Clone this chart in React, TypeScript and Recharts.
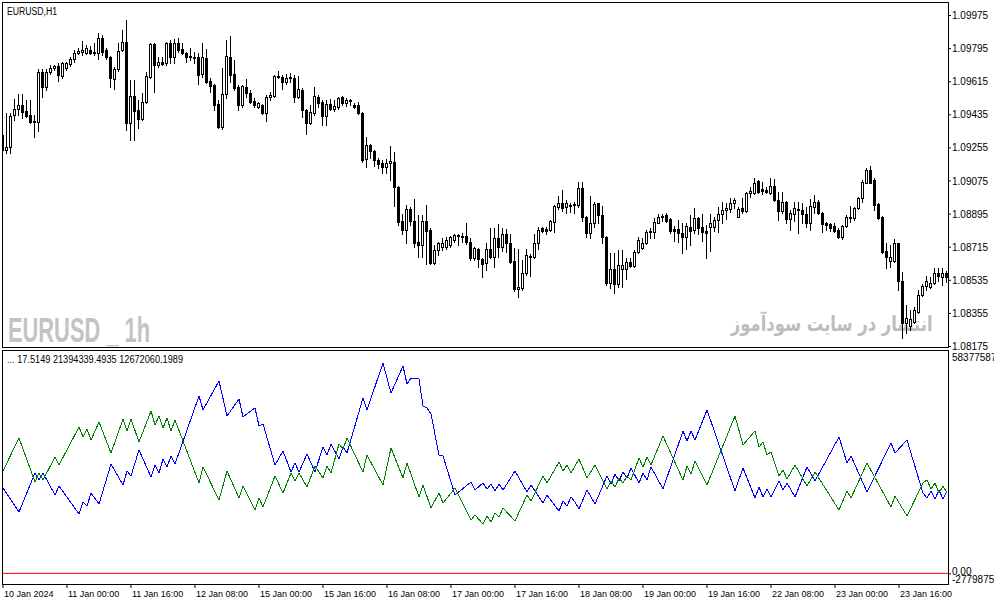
import React from "react";
import { ComposedChart, Bar, Line, XAxis, YAxis, ReferenceLine } from "recharts";

const FONT = "'Liberation Sans', Arial, sans-serif";

const opens = [
  1.09325, 1.09244, 1.0926, 1.09434, 1.09467, 1.09488, 1.09456, 1.09434, 1.09401, 1.09396,
  1.09668, 1.09586, 1.09668, 1.0969, 1.097, 1.09646, 1.0969, 1.09711, 1.09739, 1.09771,
  1.09777, 1.09771, 1.09787, 1.09777, 1.09771, 1.09853, 1.09787, 1.09749, 1.0963, 1.09684,
  1.09787, 1.09831, 1.0939, 1.09537, 1.09461, 1.09412, 1.09505, 1.09641, 1.0982, 1.09706,
  1.09722, 1.09717, 1.09826, 1.09749, 1.09826, 1.09793, 1.09771, 1.09749, 1.09749, 1.09749,
  1.09657, 1.09744, 1.09619, 1.09597, 1.09494, 1.09369, 1.09548, 1.09749, 1.09657, 1.09586,
  1.09488, 1.09586, 1.09554, 1.0951, 1.09477, 1.09488, 1.09445, 1.09532, 1.09537, 1.09641,
  1.09641, 1.09613, 1.09635, 1.09635, 1.09532, 1.0957, 1.09461, 1.0939, 1.09445, 1.09532,
  1.09505, 1.09429, 1.09494, 1.09467, 1.09477, 1.09532, 1.09499, 1.0951, 1.09488, 1.09488,
  1.09445, 1.09195, 1.09271, 1.09238, 1.09189, 1.09173, 1.09151, 1.09173, 1.09178, 1.09042,
  1.08858, 1.08809, 1.08923, 1.08858, 1.08743, 1.08727, 1.08858, 1.08809, 1.08629, 1.087,
  1.08716, 1.08716, 1.08727, 1.08754, 1.08776, 1.08776, 1.08776, 1.08743, 1.08656, 1.08705,
  1.08651, 1.08629, 1.08705, 1.08662, 1.08765, 1.08716, 1.08787, 1.08738, 1.0864, 1.08488,
  1.08493, 1.08575, 1.08667, 1.08662, 1.08738, 1.08819, 1.08814, 1.08809, 1.08852, 1.08934,
  1.08955, 1.08934, 1.08945, 1.08945, 1.08945, 1.09037, 1.08879, 1.08792, 1.08847, 1.08955,
  1.0889, 1.08771, 1.0852, 1.08597, 1.08515, 1.08597, 1.08597, 1.08635, 1.08613, 1.08689,
  1.08711, 1.08738, 1.08798, 1.08798, 1.08847, 1.08879, 1.0889, 1.08868, 1.08814, 1.08814,
  1.08792, 1.08771, 1.08825, 1.08809, 1.08874, 1.08825, 1.08803, 1.08825, 1.08825, 1.08863,
  1.08896, 1.08917, 1.08923, 1.08955, 1.08879, 1.08928, 1.08912, 1.0901, 1.0901, 1.09075,
  1.09032, 1.09026, 1.0901, 1.09048, 1.08972, 1.08912, 1.08961, 1.08868, 1.08896, 1.08917,
  1.08917, 1.08896, 1.08847, 1.08934, 1.08961, 1.08901, 1.08847, 1.08841, 1.0883, 1.08809,
  1.08771, 1.0883, 1.08874, 1.08874, 1.08928, 1.08983, 1.09064, 1.09135, 1.0908, 1.0895,
  1.08879, 1.08694, 1.0864, 1.0864, 1.08738, 1.08531, 1.08303, 1.08287, 1.08308, 1.08363,
  1.08455, 1.08504, 1.08499, 1.0852, 1.08575, 1.08553, 1.08575,
];

const highs = [
  1.09336, 1.09445, 1.09445, 1.09521, 1.09548, 1.09548, 1.09515, 1.09515, 1.09434, 1.09684,
  1.09684, 1.09684, 1.09706, 1.09706, 1.09717, 1.09722, 1.09722, 1.09749, 1.09787, 1.09798,
  1.09836, 1.09815, 1.09809, 1.09826, 1.0988, 1.09869, 1.09798, 1.09755, 1.09695, 1.09826,
  1.09896, 1.09951, 1.09624, 1.09624, 1.09515, 1.09554, 1.09668, 1.09826, 1.09826, 1.09749,
  1.09749, 1.09831, 1.09842, 1.09847, 1.09853, 1.09826, 1.09777, 1.09798, 1.09777, 1.09771,
  1.09826, 1.09793, 1.09635, 1.09603, 1.09515, 1.0969, 1.09842, 1.09864, 1.09733, 1.09597,
  1.09597, 1.0963, 1.0957, 1.09526, 1.09505, 1.09494, 1.09543, 1.09559, 1.09651, 1.09673,
  1.09651, 1.09657, 1.09662, 1.09651, 1.09646, 1.09581, 1.09467, 1.09488, 1.09586, 1.09543,
  1.09515, 1.09515, 1.09521, 1.09515, 1.09532, 1.09537, 1.09526, 1.09521, 1.09499, 1.09505,
  1.0945, 1.09314, 1.09276, 1.09244, 1.092, 1.09189, 1.09195, 1.09265, 1.09233, 1.09048,
  1.08896, 1.08945, 1.08934, 1.08977, 1.0889, 1.0889, 1.08945, 1.08819, 1.08727, 1.08743,
  1.08765, 1.08771, 1.08776, 1.08787, 1.08787, 1.08792, 1.08847, 1.08765, 1.08716, 1.08711,
  1.08656, 1.08738, 1.08819, 1.08819, 1.08841, 1.08819, 1.08814, 1.08787, 1.08711, 1.08705,
  1.08645, 1.08705, 1.08678, 1.08787, 1.08825, 1.08825, 1.08825, 1.08863, 1.08945, 1.08994,
  1.09026, 1.08972, 1.08955, 1.08961, 1.0907, 1.0907, 1.08885, 1.08994, 1.08961, 1.08958,
  1.08939, 1.08776, 1.08684, 1.08684, 1.087, 1.087, 1.08656, 1.08656, 1.087, 1.08771,
  1.08765, 1.08809, 1.08819, 1.08874, 1.08896, 1.08896, 1.08901, 1.08874, 1.0883, 1.08863,
  1.08847, 1.08847, 1.0889, 1.08928, 1.08879, 1.08896, 1.08836, 1.08896, 1.08879, 1.08934,
  1.08961, 1.08955, 1.08983, 1.08983, 1.08934, 1.08983, 1.09015, 1.09042, 1.09091, 1.0908,
  1.0907, 1.09042, 1.09091, 1.09086, 1.09015, 1.09015, 1.08966, 1.08917, 1.08961, 1.08961,
  1.08955, 1.08934, 1.08977, 1.08999, 1.08972, 1.08906, 1.08852, 1.08847, 1.08847, 1.08819,
  1.08836, 1.0889, 1.08939, 1.08934, 1.08988, 1.0908, 1.09146, 1.09157, 1.09091, 1.08955,
  1.08885, 1.08738, 1.08727, 1.0876, 1.0874, 1.0858, 1.08401, 1.08374, 1.0839, 1.08482,
  1.08515, 1.08558, 1.08553, 1.08602, 1.08602, 1.08602, 1.08586,
];

const lows = [
  1.09227, 1.09227, 1.09227, 1.09407, 1.09434, 1.09418, 1.09423, 1.0939, 1.09314, 1.09347,
  1.09532, 1.0957, 1.09657, 1.09679, 1.09619, 1.09635, 1.09679, 1.097, 1.09722, 1.09766,
  1.0976, 1.09766, 1.09766, 1.0976, 1.09739, 1.0976, 1.09739, 1.09586, 1.09575, 1.09673,
  1.09782, 1.09352, 1.09298, 1.09298, 1.09363, 1.09407, 1.09499, 1.09635, 1.09559, 1.09695,
  1.09706, 1.09706, 1.09717, 1.09717, 1.09777, 1.09766, 1.09722, 1.09733, 1.09717, 1.09603,
  1.09641, 1.09608, 1.09559, 1.09461, 1.09363, 1.09358, 1.09526, 1.09613, 1.0957, 1.09461,
  1.09477, 1.09532, 1.09499, 1.09477, 1.09472, 1.09439, 1.09401, 1.09515, 1.09532, 1.09635,
  1.09575, 1.09603, 1.09613, 1.09505, 1.09526, 1.09423, 1.09331, 1.09385, 1.09434, 1.09477,
  1.0938, 1.0938, 1.09461, 1.09456, 1.09467, 1.09488, 1.09483, 1.09488, 1.09472, 1.09439,
  1.09178, 1.09151, 1.092, 1.09157, 1.09146, 1.09119, 1.09119, 1.0908, 1.08939, 1.08836,
  1.08787, 1.08738, 1.08836, 1.08716, 1.08662, 1.08662, 1.08624, 1.08624, 1.08624, 1.08673,
  1.087, 1.08705, 1.08716, 1.08743, 1.08727, 1.08743, 1.08732, 1.08645, 1.08645, 1.08607,
  1.08553, 1.08591, 1.08656, 1.08607, 1.08662, 1.08694, 1.08689, 1.08629, 1.08477, 1.08444,
  1.08482, 1.08564, 1.08558, 1.08656, 1.08705, 1.08798, 1.08787, 1.08803, 1.08798, 1.08923,
  1.08912, 1.08901, 1.08906, 1.08901, 1.08934, 1.08858, 1.08771, 1.08765, 1.08825, 1.08847,
  1.08738, 1.0851, 1.08493, 1.08466, 1.08499, 1.08499, 1.08542, 1.08607, 1.08607, 1.08684,
  1.08705, 1.08732, 1.08765, 1.08765, 1.08847, 1.08858, 1.08852, 1.08792, 1.08749, 1.08743,
  1.08684, 1.08705, 1.08727, 1.08792, 1.08787, 1.08749, 1.08656, 1.08694, 1.08803, 1.08798,
  1.08847, 1.08868, 1.08906, 1.08928, 1.08879, 1.08901, 1.08906, 1.08988, 1.09004, 1.0901,
  1.09004, 1.0901, 1.09004, 1.08966, 1.08863, 1.08901, 1.08847, 1.08809, 1.08858, 1.08792,
  1.08847, 1.08825, 1.08809, 1.08901, 1.08896, 1.08798, 1.08809, 1.08803, 1.08798, 1.08765,
  1.0876, 1.08825, 1.08852, 1.08863, 1.08923, 1.08961, 1.09064, 1.09064, 1.08917, 1.08868,
  1.08684, 1.08602, 1.08607, 1.08635, 1.08482, 1.08221, 1.08249, 1.08265, 1.08303, 1.08357,
  1.0845, 1.08482, 1.08493, 1.08515, 1.08531, 1.0851, 1.08526,
];

const closes = [
  1.09244, 1.0926, 1.09429, 1.09467, 1.09488, 1.0945, 1.09429, 1.09396, 1.09396, 1.09668,
  1.09586, 1.09668, 1.0969, 1.097, 1.09651, 1.09717, 1.09717, 1.09739, 1.09771, 1.09782,
  1.09787, 1.09798, 1.09771, 1.09771, 1.09853, 1.09777, 1.09749, 1.09635, 1.09684, 1.09782,
  1.09831, 1.0939, 1.09537, 1.09456, 1.09412, 1.09505, 1.09646, 1.0982, 1.09706, 1.09722,
  1.09711, 1.09826, 1.09749, 1.09826, 1.09787, 1.09771, 1.09749, 1.09755, 1.09744, 1.09651,
  1.09749, 1.09613, 1.09592, 1.09488, 1.09369, 1.09548, 1.09755, 1.09651, 1.09581, 1.09488,
  1.09592, 1.09554, 1.09505, 1.09488, 1.09499, 1.09445, 1.09532, 1.09543, 1.09646, 1.09646,
  1.09613, 1.09635, 1.09641, 1.09532, 1.09575, 1.09461, 1.0939, 1.0945, 1.09537, 1.09499,
  1.09429, 1.09494, 1.09467, 1.09483, 1.09526, 1.09499, 1.09515, 1.09515, 1.09477, 1.09445,
  1.09189, 1.09271, 1.09238, 1.09189, 1.09167, 1.09151, 1.09173, 1.09184, 1.09042, 1.08852,
  1.08809, 1.08923, 1.08858, 1.08738, 1.08727, 1.08858, 1.08803, 1.08629, 1.087, 1.08738,
  1.08738, 1.08754, 1.08771, 1.08781, 1.08781, 1.08771, 1.08743, 1.08656, 1.08711, 1.08651,
  1.08624, 1.08705, 1.08662, 1.08765, 1.08716, 1.08787, 1.08738, 1.08635, 1.08488, 1.08499,
  1.08575, 1.08673, 1.08662, 1.08738, 1.08809, 1.08803, 1.08803, 1.08858, 1.08939, 1.08955,
  1.08928, 1.08955, 1.08939, 1.0895, 1.09037, 1.08879, 1.08792, 1.08847, 1.0895, 1.0889,
  1.08771, 1.0852, 1.08597, 1.08515, 1.08618, 1.08618, 1.08635, 1.08613, 1.08689, 1.08754,
  1.08738, 1.08798, 1.08803, 1.08852, 1.08879, 1.08885, 1.08858, 1.08803, 1.08803, 1.08792,
  1.08771, 1.0883, 1.08803, 1.08874, 1.08819, 1.08798, 1.08792, 1.08847, 1.08863, 1.08896,
  1.08917, 1.08928, 1.08955, 1.08972, 1.08923, 1.08912, 1.0901, 1.09021, 1.09064, 1.09015,
  1.09021, 1.09015, 1.09048, 1.08972, 1.08912, 1.08961, 1.08868, 1.08901, 1.08928, 1.08923,
  1.08896, 1.08847, 1.08939, 1.08961, 1.08901, 1.08841, 1.08836, 1.08819, 1.08803, 1.08771,
  1.0883, 1.08879, 1.08879, 1.08928, 1.08983, 1.0907, 1.09135, 1.09064, 1.08945, 1.08874,
  1.08689, 1.08662, 1.08662, 1.08738, 1.08531, 1.08303, 1.0833, 1.08325, 1.08374, 1.08455,
  1.08504, 1.08531, 1.0852, 1.08575, 1.08558, 1.08575, 1.08553,
];

const priceTicks = [1.08175, 1.08355, 1.08535, 1.08715, 1.08895, 1.09075, 1.09255, 1.09435, 1.09615, 1.09795, 1.09975];
const priceDomain = [1.081668, 1.100484];

const timeTickBars = [0, 16, 32, 48, 64, 80, 96, 112, 128, 144, 160, 176, 192, 208, 224];
const timeTickLabels = [
  "10 Jan 2024", "11 Jan 00:00", "11 Jan 16:00", "12 Jan 08:00", "15 Jan 00:00",
  "15 Jan 16:00", "16 Jan 08:00", "17 Jan 00:00", "17 Jan 16:00", "18 Jan 08:00",
  "19 Jan 00:00", "19 Jan 16:00", "22 Jan 08:00", "23 Jan 00:00", "23 Jan 16:00",
];

const bluePoints: [number, number][] = [
  [0, 22.31e6], [4, 16.04e6], [8, 26.23e6], [9, 24.4e6], [10, 26.23e6], [13, 20.48e6], [14, 22.83e6],
  [19, 15.51e6], [20, 18.65e6], [21, 17.61e6], [22, 21.0e6], [24, 18.13e6], [27, 28.58e6], [30, 23.09e6],
  [31, 26.75e6], [32, 25.45e6], [34, 32.24e6], [37, 25.19e6], [38, 28.32e6], [39, 26.23e6], [40, 29.89e6],
  [41, 27.8e6], [42, 30.67e6], [43, 28.58e6], [49, 46.36e6], [50, 42.7e6], [54, 50.28e6], [56, 41.13e6],
  [59, 45.57e6], [60, 40.87e6], [63, 43.22e6], [64, 38.51e6], [65, 39.04e6], [68, 28.32e6], [70, 31.98e6],
  [72, 26.49e6], [73, 28.84e6], [74, 26.49e6], [76, 31.2e6], [78, 26.49e6], [80, 33.03e6], [81, 30.94e6],
  [82, 33.81e6], [84, 29.89e6], [85, 33.03e6], [86, 31.46e6], [90, 45.83e6], [91, 42.7e6], [95, 54.98e6],
  [97, 47.14e6], [100, 54.2e6], [101, 49.49e6], [102, 51.06e6], [104, 50.8e6], [105, 43.74e6], [106, 43.22e6],
  [107, 41.65e6], [109, 30.94e6], [110, 30.67e6], [113, 20.48e6], [117, 23.88e6], [118, 21.79e6], [120, 23.62e6],
  [121, 22.05e6], [122, 23.36e6], [123, 21.53e6], [124, 23.36e6], [125, 21.79e6], [128, 26.75e6], [131, 21.26e6],
  [132, 23.09e6], [135, 18.39e6], [136, 20.48e6], [139, 16.3e6], [140, 18.91e6], [141, 17.61e6], [142, 19.96e6],
  [143, 18.65e6], [144, 16.82e6], [146, 21.79e6], [148, 18.13e6], [151, 25.45e6], [152, 23.36e6], [153, 25.97e6],
  [154, 24.14e6], [155, 26.49e6], [156, 24.92e6], [157, 27.54e6], [159, 23.62e6], [160, 26.23e6], [161, 24.4e6],
  [162, 27.8e6], [165, 22.05e6], [170, 37.21e6], [171, 34.59e6], [172, 37.21e6], [173, 34.86e6], [176, 42.7e6],
  [183, 21.53e6], [185, 27.54e6], [188, 19.7e6], [189, 22.57e6], [190, 19.96e6], [191, 22.05e6], [192, 19.96e6],
  [194, 24.14e6], [195, 21.79e6], [196, 23.62e6], [198, 19.96e6], [201, 27.8e6], [203, 24.14e6], [209, 35.64e6],
  [211, 28.84e6], [212, 30.67e6], [216, 21.26e6], [222, 34.07e6], [223, 31.46e6], [226, 34.86e6], [230, 21.0e6],
  [231, 19.7e6], [232, 21.53e6], [233, 19.44e6], [234, 21.79e6], [235, 19.44e6], [236, 21.39e6],
];

const greenPoints: [number, number][] = [
  [0, 26.75e6], [4, 35.38e6], [8, 23.88e6], [9, 26.23e6], [10, 24.4e6], [13, 30.41e6], [14, 28.32e6],
  [19, 38.25e6], [20, 35.64e6], [21, 37.73e6], [22, 34.86e6], [24, 39.56e6], [27, 31.46e6], [30, 40.34e6],
  [31, 37.21e6], [32, 40.34e6], [34, 34.33e6], [37, 42.43e6], [38, 38.78e6], [39, 41.13e6], [40, 37.99e6],
  [41, 40.61e6], [42, 37.21e6], [43, 40.08e6], [49, 23.62e6], [50, 27.8e6], [54, 19.17e6], [56, 26.75e6],
  [59, 19.7e6], [60, 22.83e6], [63, 16.56e6], [64, 19.7e6], [65, 17.34e6], [68, 25.45e6], [70, 21.0e6],
  [72, 26.23e6], [73, 24.14e6], [74, 26.23e6], [76, 22.57e6], [78, 28.06e6], [80, 24.92e6], [81, 28.06e6],
  [82, 26.23e6], [84, 33.81e6], [85, 32.5e6], [86, 35.38e6], [90, 26.49e6], [91, 30.94e6], [95, 23.09e6],
  [97, 32.76e6], [100, 24.92e6], [101, 28.84e6], [104, 19.96e6], [105, 23.09e6], [107, 17.08e6], [109, 21.0e6],
  [110, 18.39e6], [113, 22.31e6], [117, 13.95e6], [118, 15.25e6], [120, 12.9e6], [121, 14.99e6], [122, 13.42e6],
  [123, 15.78e6], [124, 14.73e6], [125, 17.08e6], [128, 13.69e6], [131, 20.48e6], [132, 18.91e6], [135, 25.45e6],
  [136, 23.62e6], [139, 29.11e6], [140, 26.75e6], [141, 28.32e6], [142, 26.23e6], [144, 29.89e6], [146, 24.92e6],
  [148, 28.32e6], [151, 22.05e6], [152, 24.14e6], [153, 22.57e6], [154, 24.92e6], [155, 23.62e6], [156, 25.45e6],
  [157, 24.4e6], [159, 30.15e6], [160, 27.8e6], [161, 30.41e6], [162, 28.32e6], [165, 35.9e6], [170, 24.4e6],
  [171, 28.06e6], [172, 25.97e6], [173, 29.37e6], [176, 23.09e6], [183, 41.13e6], [185, 33.55e6], [188, 37.21e6],
  [189, 33.03e6], [190, 34.33e6], [191, 30.94e6], [192, 31.72e6], [194, 25.45e6], [195, 27.01e6], [196, 24.66e6],
  [198, 28.32e6], [201, 22.83e6], [203, 26.49e6], [209, 16.56e6], [211, 21.53e6], [212, 19.7e6], [216, 28.84e6],
  [222, 17.34e6], [223, 20.22e6], [226, 14.99e6], [230, 23.62e6], [231, 24.4e6], [232, 22.05e6], [233, 23.62e6],
  [234, 21.0e6], [235, 22.83e6], [236, 21.0e6],
];

const indicatorTicks = [58377587, 0, -2779875];
const indicatorDomain = [-2779875, 58377587];
const barDomain = [-0.25, 236.25];

const candles = opens.map((o, i) => ({
  i,
  o,
  h: highs[i],
  l: lows[i],
  c: closes[i],
  range: [lows[i], highs[i]],
}));

const blueMap = new Map(bluePoints);
const greenMap = new Map(greenPoints);
const indicatorRows = opens.map((_, i) => ({
  i,
  blue: blueMap.has(i) ? blueMap.get(i) : null,
  green: greenMap.has(i) ? greenMap.get(i) : null,
}));

const Candle = (props: any) => {
  const { x, y, width, height } = props;
  const p = props.payload || props;
  if (x == null || y == null || p == null) return null;
  const { o, h, l, c } = p;
  const top = Math.min(y, y + height);
  const bot = Math.max(y, y + height);
  const span = h - l;
  const py = (v: number) => (span > 0 ? top + ((h - v) / span) * (bot - top) : top);
  const cx = Math.floor(x + width / 2);
  const yh = Math.round(top);
  const yl = Math.round(bot);
  const yo = Math.round(py(o));
  const yc = Math.round(py(c));
  const els: any[] = [];
  els.push(<rect key="w" x={cx} y={yh} width={1} height={Math.max(1, yl - yh + 1)} fill="#000" />);
  if (c >= o) {
    const bt = yc;
    const bb = Math.max(yo, yc + 1);
    els.push(<rect key="b" x={cx - 1} y={bt} width={3} height={bb - bt + 1} fill="#000" />);
    if (bb - bt - 1 > 0) {
      els.push(<rect key="i" x={cx} y={bt + 1} width={1} height={bb - bt - 1} fill="#fff" />);
    }
  } else {
    els.push(<rect key="b" x={cx - 1} y={yo} width={3} height={Math.max(1, yc - yo + 1)} fill="#000" />);
  }
  return <g shapeRendering="crispEdges">{els}</g>;
};

const TimeTick = (props: any) => {
  const { x, y, payload } = props;
  const k = timeTickBars.indexOf(payload.value);
  if (k < 0) return null;
  return (
    <text x={x + 1} y={y + 9} fontSize={9} fontFamily={FONT} fill="#000" textAnchor="start">
      {timeTickLabels[k]}
    </text>
  );
};

const IndTick = (props: any) => {
  const { x, y, payload } = props;
  const v = payload.value;
  if (v === 0) {
    return (
      <g>
        <line x1={x - 4} x2={x - 1} y1={y + 0.5} y2={y + 0.5} stroke="#000" />
        <text x={x} y={y - 2} dy="0.355em" fontSize={10} fontFamily={FONT} fill="#000">0.00</text>
      </g>
    );
  }
  const dyPx = v > 0 ? 7 : -5;
  return (
    <text x={x} y={y + dyPx} dy="0.355em" fontSize={10} fontFamily={FONT} fill="#000">
      {v.toFixed(4)}
    </text>
  );
};

const frame = (left: number, top: number, w: number, h: number) => ({
  position: "absolute" as const,
  left,
  top,
  width: w,
  height: h,
  border: "1px solid #000",
  boxSizing: "border-box" as const,
  pointerEvents: "none" as const,
});

export default function App() {
  return (
    <div
      style={{
        position: "absolute",
        left: 0,
        top: 0,
        width: 994,
        height: 605,
        overflow: "hidden",
        background: "#fff",
        fontFamily: FONT,
      }}
    >
      <svg width={994} height={605} style={{ position: "absolute", left: 0, top: 0 }}>
        <text
          x={8}
          y={342}
          fontSize={35}
          fontWeight="bold"
          fontFamily={FONT}
          fill="#c3c3c3"
          textLength={142}
          lengthAdjust="spacingAndGlyphs"
        >
          EURUSD _ 1h
        </text>
      </svg>
      <div
        dir="rtl"
        style={{
          position: "absolute",
          right: 61,
          top: 314,
          fontSize: 21,
          fontWeight: "bold",
          fontFamily: "'DejaVu Sans', sans-serif",
          color: "#bdbdbd",
          whiteSpace: "nowrap",
          lineHeight: 1,
          transform: "scaleX(0.78)",
          transformOrigin: "right center",
        }}
      >
        انتشار در سایت سودآموز
      </div>

      <div style={{ position: "absolute", left: 0, top: 0 }}>
        <ComposedChart width={994} height={350} data={candles} margin={{ top: 2, right: 0, bottom: 2, left: 2 }}>
          <XAxis dataKey="i" type="number" domain={barDomain} hide allowDataOverflow />
          <YAxis
            orientation="right"
            width={46}
            domain={priceDomain}
            ticks={priceTicks}
            allowDataOverflow
            interval={0}
            axisLine={false}
            tickSize={3}
            tickMargin={1}
            tickLine={{ stroke: "#000" }}
            tick={{ fill: "#000", fontSize: 10, fontFamily: FONT }}
            tickFormatter={(v: number) => v.toFixed(5)}
          />
          <Bar dataKey="range" barSize={3} shape={<Candle />} isAnimationActive={false} />
        </ComposedChart>
      </div>

      <div style={{ position: "absolute", left: 0, top: 350 }}>
        <ComposedChart width={994} height={255} data={indicatorRows} margin={{ top: 0, right: 0, bottom: 0, left: 2 }}>
          <XAxis
            dataKey="i"
            type="number"
            domain={barDomain}
            ticks={timeTickBars}
            interval={0}
            height={21}
            allowDataOverflow
            axisLine={false}
            tickSize={4}
            tickMargin={0}
            tickLine={{ stroke: "#000" }}
            tick={<TimeTick />}
          />
          <YAxis
            orientation="right"
            width={46}
            domain={indicatorDomain}
            ticks={indicatorTicks}
            allowDataOverflow
            interval={0}
            axisLine={false}
            tickLine={false}
            tickSize={3}
            tickMargin={1}
            tick={<IndTick />}
          />
          <ReferenceLine y={0} stroke="#ff0000" strokeWidth={1} />
          <Line type="linear" dataKey="blue" stroke="#0000ff" strokeWidth={1} dot={false} connectNulls isAnimationActive={false} shapeRendering="crispEdges" />
          <Line type="linear" dataKey="green" stroke="#008000" strokeWidth={1} dot={false} connectNulls isAnimationActive={false} shapeRendering="crispEdges" />
        </ComposedChart>
      </div>

      <div style={frame(2, 2, 947, 346)} />
      <div style={frame(2, 350, 947, 235)} />

      <svg width={994} height={605} style={{ position: "absolute", left: 0, top: 0, pointerEvents: "none" }}>
        <text x={7} y={14.5} fontSize={10} fontFamily={FONT} fill="#000" textLength={50} lengthAdjust="spacingAndGlyphs">
          EURUSD,H1
        </text>
        <text x={7} y={362.5} fontSize={10} fontFamily={FONT} fill="#000" textLength={176} lengthAdjust="spacingAndGlyphs">
          <tspan fill="#800000">...</tspan> 17.5149 21394339.4935 12672060.1989
        </text>
      </svg>
    </div>
  );
}
